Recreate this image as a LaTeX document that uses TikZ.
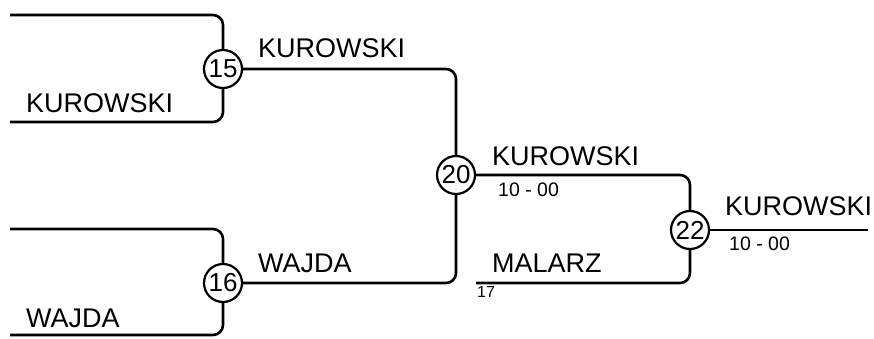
\documentclass[tikz,border=0pt]{standalone}
\usepackage{fontspec}
\setmainfont{Liberation Sans}
\newcommand{\player}[1]{\fontsize{27}{31}\selectfont #1}
\newcommand{\score}[1]{\fontsize{19.5}{23}\selectfont #1}
\begin{document}
\begin{tikzpicture}[x=1pt,y=-1pt]

%
% Styles
%
\tikzstyle{game} = [circle,draw,line width=2.2pt,minimum size=38pt,inner sep=0pt,font=\fontsize{26}{29}\selectfont]
\tikzstyle{wire} = [line width=2.6pt,rounded corners=10pt]
\tikzstyle{pname} = [anchor=base west,inner sep=0pt]

\useasboundingbox (0,0) rectangle (874,338);

\node[game] (g15) at (223, 69)  {15};
\node[game] (g16) at (223,283)  {16};
\node[game] (g20) at (456,175)  {20};
\node[game] (g22) at (690,230)  {22};

\coordinate (t15) at (10, 15);
\coordinate (b15) at (10,122);
\coordinate (t16) at (10,229);
\coordinate (b16) at (10,335);
\coordinate (m17) at (476,283);
\coordinate (fin) at (868,230);

\draw[wire] (t15) -| (g15);
\draw[wire] (b15) -| (g15);
\draw[wire] (t16) -| (g16);
\draw[wire] (b16) -| (g16);
\draw[wire] (g15) -| (g20);
\draw[wire] (g16) -| (g20);
\draw[wire] (g20) -| (g22);
\draw[wire] (m17) -| (g22);
\draw[wire] (g22) -- (fin);

\node[pname] (n15) at ( 26,112) {\player{KUROWSKI}};
\node[pname] (n16) at ( 26,327) {\player{WAJDA}};
\node[pname] (w15) at (258, 57) {\player{KUROWSKI}};
\node[pname] (w16) at (258,272) {\player{WAJDA}};
\node[pname] (w20) at (492,165) {\player{KUROWSKI}};
\node[pname] (s20) at (498,196) {\score{10 - 00}};
\node[pname] (w17) at (492,272) {\player{MALARZ}};
\node[pname] (s17) at (477,297) {\fontsize{16}{19}\selectfont 17};
\node[pname] (w22) at (725,215) {\player{KUROWSKI}};
\node[pname] (s22) at (729,250) {\score{10 - 00}};

\end{tikzpicture}
\end{document}
